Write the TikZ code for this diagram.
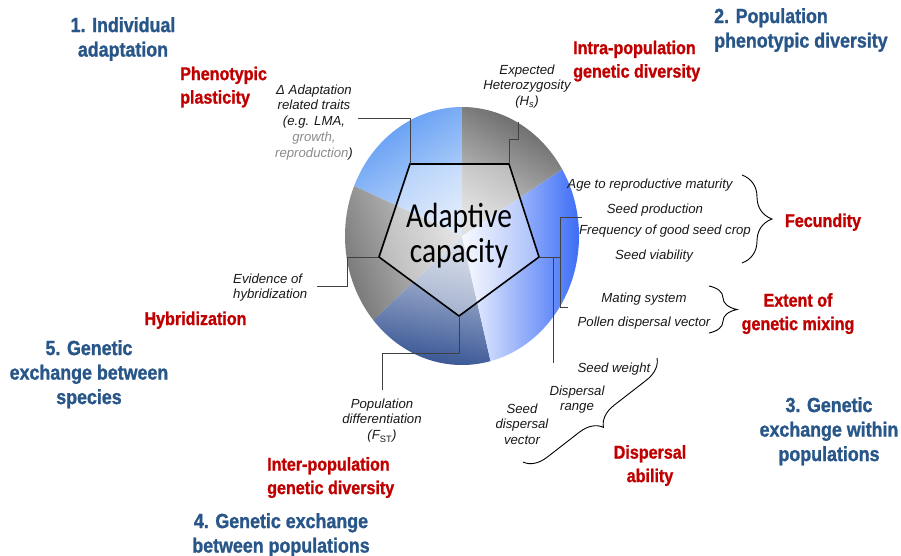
\documentclass[tikz,border=0pt]{standalone}
\usepackage{fontspec}
\setmainfont{Liberation Sans}
\newfontfamily\narrowbold{Liberation Sans Bold}[FakeStretch=0.87, FakeBold=1.2]
\newfontfamily\corefont{Carlito}[FakeStretch=0.84]
\usetikzlibrary{decorations.pathreplacing}

\definecolor{headblue}{RGB}{40,86,136}
\definecolor{topicred}{RGB}{192,0,0}
\definecolor{traitgray}{RGB}{140,140,140}
\definecolor{skyblue}{RGB}{76,144,242}
\definecolor{royalblue}{RGB}{40,94,245}
\definecolor{navyblue}{RGB}{40,72,140}
\definecolor{sectordark}{RGB}{85,85,85}
\definecolor{sectormid}{RGB}{110,110,110}

\begin{document}
\begin{tikzpicture}[x=1pt,y=-1pt,
  head/.style={font=\narrowbold\fontsize{20.5}{24.5}\selectfont, text=headblue, inner sep=0pt},
  topic/.style={font=\narrowbold\fontsize{18.5}{23.5}\selectfont, text=topicred, inner sep=0pt},
  item/.style={font=\itshape\fontsize{13.2}{15.8}\selectfont, text=black!90, inner sep=0pt},
  leader/.style={draw=black!75, line width=0.8pt},
  curly/.style={decorate, decoration={brace, amplitude=#1}, line width=0.9pt}]

\useasboundingbox (0,0) rectangle (901,556);

% pie of five shaded sectors
\coordinate (C) at (462,236);
\begin{scope}
\clip (C) ellipse [x radius=117pt, y radius=129pt];
\foreach \ta/\tb/\outer/\inner/\ang in {90/157/skyblue/skyblue!30/33, 157/221/sectormid/gray!30/110,
    221/284/navyblue/navyblue!25/170, -76/31.4/royalblue/royalblue!5/-90, 31.4/90/sectordark/gray!35/-30}{
  \shade[top color=\outer, bottom color=\inner, shading angle=\ang]
    (C) -- plot[domain=\ta:\tb, samples=24] ({462+130*cos(\x)}, {236-142*sin(\x)}) -- cycle;
}
\end{scope}

% pentagon
\coordinate (p1) at (410,164);
\coordinate (p2) at (509,164);
\coordinate (p3) at (539,257);
\coordinate (p4) at (459,316);
\coordinate (p5) at (379,257);
\draw[line width=1.6pt, fill=white, fill opacity=0.35] (p1) -- (p2) -- (p3) -- (p4) -- (p5) -- cycle;
\node[font=\corefont\fontsize{35}{35}\selectfont, align=center, anchor=north, inner sep=0pt] (core) at (459,203) {Adaptive\\capacity};

% headings
\node[head, anchor=north, align=center] (indiv) at (123,17) {1. Individual\\adaptation};
\node[head, anchor=north west, align=left] (popdiv) at (714,8) {2. Population\\phenotypic diversity};
\node[head, anchor=north, align=center] (within) at (829,397) {3. Genetic\\exchange within\\populations};
\node[head, anchor=north, align=center] (between) at (281,513) {4. Genetic exchange\\between populations};
\node[head, anchor=north, align=center] (species) at (89,340) {5. Genetic\\exchange between\\species};

% topics
\node[topic, anchor=north west, align=left] (plast) at (180,66.5) {Phenotypic\\plasticity};
\node[topic, anchor=north west, align=left] (intra) at (573,40.5) {Intra-population\\genetic diversity};
\node[topic, anchor=base] (fecund) at (823,227) {Fecundity};
\node[topic, anchor=north, align=center] (mixing) at (798,293) {Extent of\\genetic mixing};
\node[topic, anchor=north, align=center] (dispab) at (650,445) {Dispersal\\ability};
\node[topic, anchor=north west, align=left] (inter) at (267,457) {Inter-population\\genetic diversity};
\node[topic, anchor=base] (hybrid) at (195.5,325) {Hybridization};

% measured traits
\node[item, anchor=north, align=center] (traits) at (314,84.4) {Δ Adaptation\\related traits\\(e.g. LMA,\\{\color{traitgray}growth,}\\{\color{traitgray}reproduction})};
\node[item, anchor=north, align=center] (hetero) at (527,64.4) {Expected\\Heterozygosity\\(H\textsubscript{s})};
\node[item, anchor=base] (age) at (650,189) {Age to reproductive maturity};
\node[item, anchor=base] (seedprod) at (655,213) {Seed production};
\node[item, anchor=base] (freq) at (665,234) {Frequency of good seed crop};
\node[item, anchor=base] (viab) at (654,259) {Seed viability};
\node[item, anchor=base] (mating) at (644,302) {Mating system};
\node[item, anchor=base] (pollen) at (644,326) {Pollen dispersal vector};
\node[item, anchor=base] (weight) at (614,372) {Seed weight};
\node[item, anchor=north, align=center] (range) at (577,385.4) {Dispersal\\range};
\node[item, anchor=north, align=center] (vector) at (522,403.4) {Seed\\dispersal\\vector};
\node[item, anchor=north west, align=left] (evid) at (233,273.4) {Evidence of\\hybridization};
\node[item, anchor=north, align=center] (fst) at (382,398.4) {Population\\differentiation\\(F\textsubscript{\upshape ST})};

% leader lines
\coordinate (tr) at (358,118);
\coordinate (he) at (518,122);
\coordinate (fj) at (560,257);
\coordinate (fe) at (582,217);
\coordinate (me) at (568,307);
\coordinate (dj) at (553,257);
\coordinate (de) at (553,363);
\coordinate (hy) at (317,286);
\coordinate (fs) at (382,390);
\draw[leader] (tr) -| (p1);
\draw[leader] (he) -- ++(0,17) -| (p2);
\draw[leader] (p3) -- (fj);
\draw[leader] (fj) |- (fe);
\draw[leader] (fj) |- (me);
\draw[leader] (dj) -- (de);
\draw[leader] (p5) -- ++(-32,0) |- (hy);
\draw[leader] (p4) -- ++(0,37) -| (fs);

% braces
\coordinate (fb1) at (742,175);
\coordinate (fb2) at (742,263);
\coordinate (mb1) at (709,286);
\coordinate (mb2) at (709,333);
\coordinate (db1) at (657,358);
\coordinate (db2) at (523,462);
\draw[curly=30] (fb1) -- (fb2);
\draw[curly=28] (mb1) -- (mb2);
\draw[curly=22] (db1) -- (db2);

\end{tikzpicture}
\end{document}
